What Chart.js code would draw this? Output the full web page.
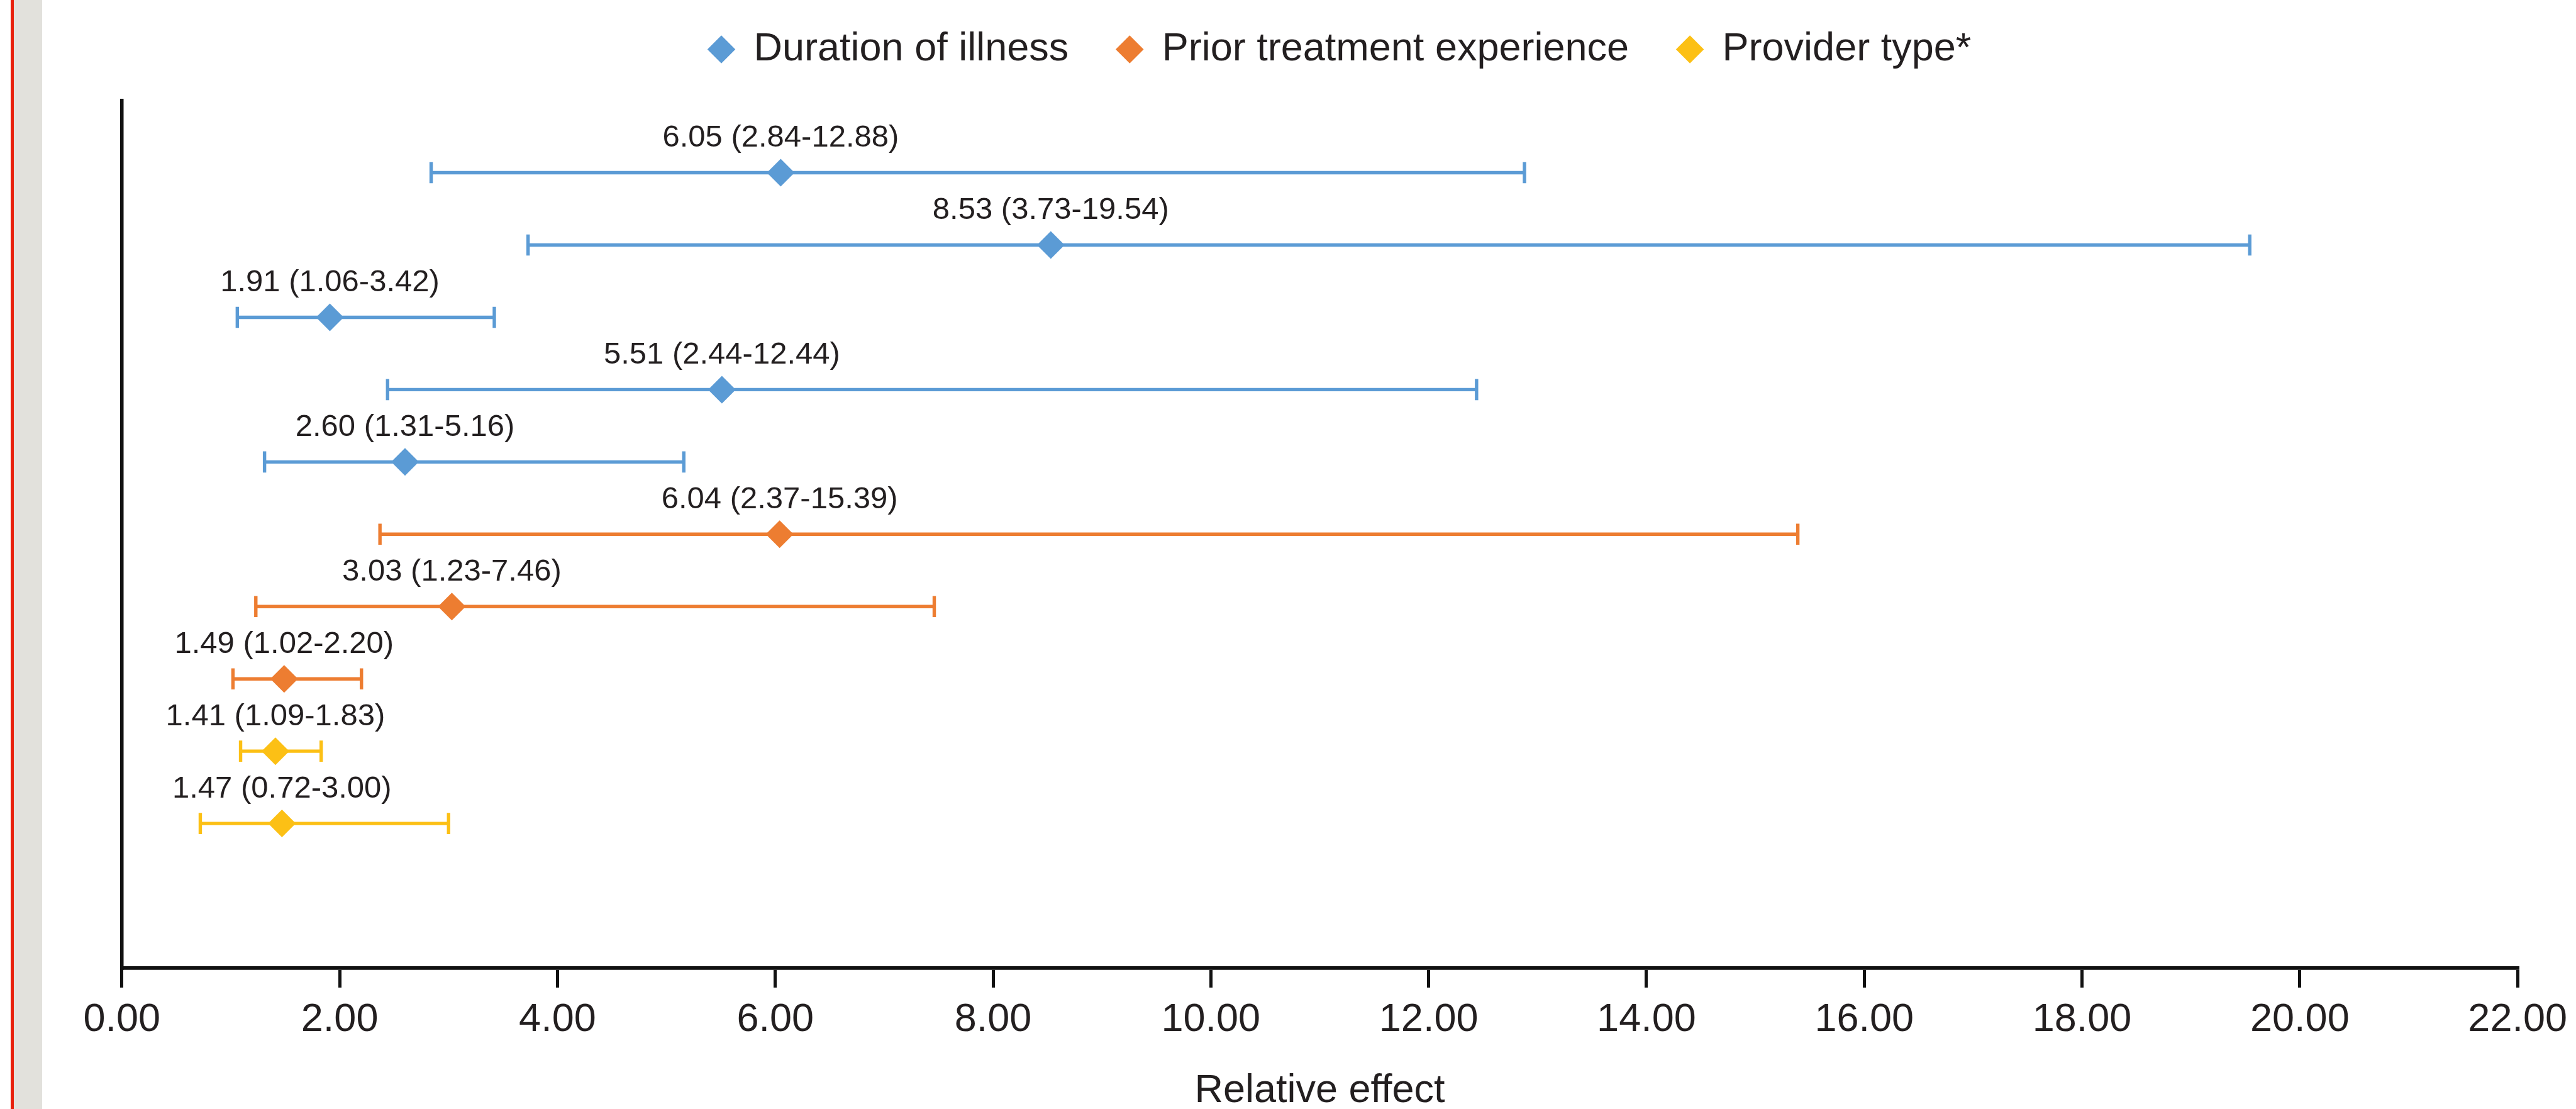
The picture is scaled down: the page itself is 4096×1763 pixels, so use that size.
<!DOCTYPE html>
<html>
<head>
<meta charset="utf-8">
<script src="https://cdn.jsdelivr.net/npm/chart.js@4.4.1/dist/chart.umd.min.js"></script>
<style>
  html, body { margin: 0; padding: 0; background: #ffffff; overflow: hidden; }
  #wrap { position: relative; width: 4096px; height: 1763px; }
  #redline { position: absolute; left: 17.1px; top: 0; width: 4.8px; height: 1763px; background: #e8200c; }
  #band { position: absolute; left: 21.9px; top: 0; width: 45.6px; height: 1763px; background: #e2e1dc; }
  #c { position: absolute; left: 0; top: 0; }
</style>
</head>
<body>
<div id="wrap">
  <div id="redline"></div>
  <div id="band"></div>
  <canvas id="c" width="4096" height="1763"></canvas>
</div>
<script>
// ---------------- data ----------------
const groupNames = ['Duration of illness', 'Prior treatment experience', 'Provider type*'];
const rowGroup   = [0, 0, 0, 0, 0, 1, 1, 1, 2, 2];
const estimate   = [6.05, 8.53, 1.91, 5.51, 2.60, 6.04, 3.03, 1.49, 1.41, 1.47];
const lower      = [2.84, 3.73, 1.06, 2.44, 1.31, 2.37, 1.23, 1.02, 1.09, 0.72];
const upper      = [12.88, 19.54, 3.42, 12.44, 5.16, 15.39, 7.46, 2.20, 1.83, 3.00];
const xTickValues = [0, 2, 4, 6, 8, 10, 12, 14, 16, 18, 20, 22];
const axisTitle = 'Relative effect';
const rowSlots = 12; // rows sit at positions 1..10 of a 0..12 band

// ---------------- style ----------------
const groupColors = ['#5b9bd5', '#ed7d31', '#fcc015'];
const textColor = '#231f20';
const axisColor = '#111111';
const sansFamily = '"Liberation Sans", Arial, sans-serif';
const labelFont = '49px "Liberation Sans", Arial, sans-serif';

// ---------------- datasets ----------------
const estimateSets = groupNames.map((name, g) => ({
  label: name,
  kind: 'estimate',
  data: estimate.map((v, i) => ({ x: v, y: i + 1, row: i })).filter(p => rowGroup[p.row] === g),
  showLine: false,
  pointStyle: 'rectRot',
  pointRadius: 22,
  pointHoverRadius: 22,
  pointBackgroundColor: groupColors[g],
  backgroundColor: groupColors[g],
  borderColor: groupColors[g],
  pointBorderWidth: 0,
  borderWidth: 0,
  order: 0
}));

const ciSets = estimate.map((v, i) => ({
  label: '',
  kind: 'ci',
  data: [{ x: lower[i], y: i + 1 }, { x: upper[i], y: i + 1 }],
  showLine: true,
  fill: false,
  borderColor: groupColors[rowGroup[i]],
  borderWidth: 5.4,
  pointStyle: 'line',
  pointRotation: 90,
  pointRadius: 16.8,
  pointHoverRadius: 16.8,
  pointBorderColor: groupColors[rowGroup[i]],
  pointBackgroundColor: groupColors[rowGroup[i]],
  pointBorderWidth: 5.4,
  order: 1
}));

// ---------------- plugins ----------------
const legendShift = {
  id: 'legendShift',
  afterLayout(chart, args, opts) {
    const lg = chart.legend;
    if (!lg) return;
    const pad = lg.options.labels.padding;
    const dx = opts.x - (lg.left + pad);
    lg.left += dx; lg.right += dx;
    const dy = opts.top - lg.top;
    lg.top += dy; lg.bottom += dy;
  }
};

const valueLabels = {
  id: 'valueLabels',
  afterDatasetsDraw(chart, args, opts) {
    const ctx = chart.ctx;
    ctx.save();
    ctx.fillStyle = textColor;
    ctx.font = labelFont;
    ctx.textAlign = 'center';
    ctx.textBaseline = 'alphabetic';
    chart.data.datasets.forEach((ds, di) => {
      if (ds.kind !== 'estimate') return;
      const meta = chart.getDatasetMeta(di);
      meta.data.forEach((pt, j) => {
        const r = ds.data[j].row;
        const txt = estimate[r].toFixed(2) + ' (' + lower[r].toFixed(2) + '-' + upper[r].toFixed(2) + ')';
        ctx.fillText(txt, pt.x, pt.y - opts.offset);
      });
    });
    ctx.restore();
  }
};

// ---------------- chart ----------------
new Chart(document.getElementById('c'), {
  type: 'scatter',
  data: { datasets: [...estimateSets, ...ciSets] },
  plugins: [legendShift, valueLabels],
  options: {
    responsive: false,
    animation: false,
    devicePixelRatio: 1,
    events: [],
    layout: { padding: { top: 9.6, left: 193.8, right: 83.2, bottom: 0 } },
    plugins: {
      tooltip: { enabled: false },
      legendShift: { x: 1127, top: -30 },
      valueLabels: { offset: 41.3 },
      legend: {
        display: true,
        position: 'top',
        align: 'start',
        labels: {
          usePointStyle: true,
          boxWidth: 40,
          boxHeight: 31.5,
          padding: 77,
          color: textColor,
          font: { family: sansFamily, size: 63 },
          filter: (item, data) => data.datasets[item.datasetIndex].kind === 'estimate'
        }
      }
    },
    scales: {
      x: {
        type: 'linear',
        position: 'bottom',
        min: xTickValues[0],
        max: xTickValues[xTickValues.length - 1],
        afterBuildTicks: (scale) => { scale.ticks = xTickValues.map(v => ({ value: v })); },
        afterFit: (scale) => { scale.height = 224; },
        ticks: {
          autoSkip: false,
          maxRotation: 0,
          padding: 14,
          color: textColor,
          font: { family: sansFamily, size: 63 },
          callback: (v) => Number(v).toFixed(2)
        },
        grid: {
          display: true,
          drawOnChartArea: false,
          drawTicks: true,
          tickLength: 31,
          lineWidth: 5,
          tickWidth: 5,
          color: axisColor,
          tickColor: axisColor
        },
        border: { display: true, color: axisColor, width: 5.7 },
        title: {
          display: true,
          text: axisTitle,
          color: textColor,
          font: { family: sansFamily, size: 63, lineHeight: 0.9 },
          padding: { top: 46.7, bottom: 0 }
        }
      },
      y: {
        type: 'linear',
        min: 0,
        max: rowSlots,
        reverse: true,
        ticks: { display: false },
        grid: { display: true, drawOnChartArea: false, drawTicks: false, lineWidth: 5, color: axisColor },
        border: { display: true, color: axisColor, width: 5.5 }
      }
    }
  }
});
</script>
</body>
</html>
